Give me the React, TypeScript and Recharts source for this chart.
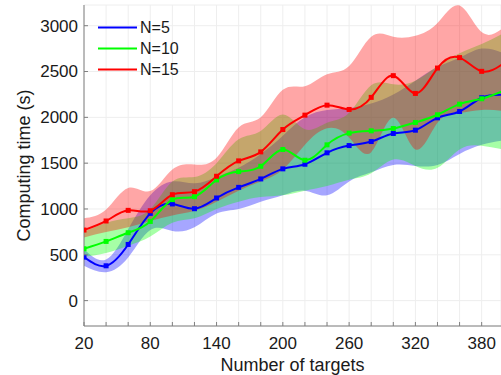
import React from 'react';
import { ComposedChart, Line, Area, XAxis, YAxis, CartesianGrid, Legend } from 'recharts';

// number of targets
const targets = [20, 40, 60, 80, 100, 120, 140, 160, 180, 200, 220, 240, 260, 280, 300, 320, 340, 360, 380, 400];

// mean computing time (s)
const n5 = [475, 380, 613, 952, 1055, 1003, 1120, 1236, 1328, 1438, 1488, 1613, 1692, 1736, 1824, 1860, 1995, 2064, 2214, 2245];
const n10 = [566, 646, 741, 864, 1102, 1134, 1317, 1408, 1466, 1649, 1532, 1700, 1828, 1853, 1878, 1944, 2028, 2144, 2203, 2290];
const n15 = [770, 869, 985, 981, 1156, 1189, 1357, 1525, 1623, 1867, 2024, 2133, 2086, 2218, 2455, 2261, 2538, 2652, 2502, 2590];

// spread (lower / upper)
const n5Lo = [380, 310, 470, 770, 760, 800, 950, 1000, 1080, 1150, 1200, 1150, 1300, 1400, 1480, 1470, 1480, 1600, 1700, 1750];
const n5Hi = [560, 450, 780, 1150, 1300, 1280, 1350, 1450, 1600, 1800, 2000, 2080, 2100, 2150, 2250, 2400, 2550, 2650, 2750, 2700];
const n10Lo = [480, 520, 600, 700, 850, 900, 1000, 1080, 1130, 1150, 1200, 1250, 1320, 1390, 1540, 1470, 1450, 1650, 1690, 1650];
const n10Hi = [750, 850, 900, 1000, 1300, 1350, 1500, 1760, 1850, 2030, 1870, 1940, 2050, 2350, 2360, 2400, 2560, 2700, 2800, 2920];
const n15Lo = [690, 750, 800, 870, 930, 980, 1080, 1200, 1300, 1430, 1700, 1880, 1780, 1620, 1995, 1650, 1940, 2050, 2080, 2070];
const n15Hi = [900, 995, 1230, 1195, 1430, 1485, 1560, 1890, 2000, 2300, 2340, 2470, 2560, 2880, 2880, 2890, 3030, 3220, 2930, 2980];

const xTicks = [20, 40, 60, 80, 100, 120, 140, 160, 180, 200, 220, 240, 260, 280, 300, 320, 340, 360, 380];
const yTicks = [0, 500, 1000, 1500, 2000, 2500, 3000];

const data = targets.map((t, i) => ({
  t,
  n5: n5[i],
  n10: n10[i],
  n15: n15[i],
  b5: [n5Lo[i], n5Hi[i]],
  b10: [n10Lo[i], n10Hi[i]],
  b15: [n15Lo[i], n15Hi[i]],
}));

const series = [
  { key: 'n5', band: 'b5', name: 'N=5', color: '#0000ff' },
  { key: 'n10', band: 'b10', name: 'N=10', color: '#00ff00' },
  { key: 'n15', band: 'b15', name: 'N=15', color: '#ff0000' },
];

const FONT = 'Liberation Sans, Arial, sans-serif';
const AXIS = '#7f7f7f';

const XTick = (props: any) => {
  const { x, y, payload } = props;
  const v = payload.value;
  return (
    <g>
      <line x1={x} y1={y} x2={x} y2={y - 4} stroke={AXIS} />
      {(v - 20) % 60 === 0 && (
        <text x={x} y={y + 23} textAnchor="middle" fontSize={17} fontFamily={FONT} fill="#1a1a1a">{v}</text>
      )}
    </g>
  );
};

const YTick = (props: any) => {
  const { x, y, payload } = props;
  return (
    <g>
      <line x1={x} y1={y} x2={x + 4} y2={y} stroke={AXIS} />
      <text x={x - 6} y={y} dy="0.35em" textAnchor="end" fontSize={17} fontFamily={FONT} fill="#1a1a1a">{payload.value}</text>
    </g>
  );
};

const square = (color: string) => (props: any) => {
  const { cx, cy } = props;
  if (cx == null || cy == null) return null;
  return <rect x={cx - 2.5} y={cy - 2.5} width={5} height={5} fill={color} />;
};

const LegendBox = () => (
  <div style={{ fontFamily: FONT, fontSize: 16, color: '#1a1a1a' }}>
    {series.map((s) => (
      <div key={s.key} style={{ display: 'flex', alignItems: 'center', height: 21 }}>
        <svg width={40} height={21}>
          <line x1={0} y1={10.5} x2={39} y2={10.5} stroke={s.color} strokeWidth={2} />
        </svg>
        <span style={{ marginLeft: 2 }}>{s.name}</span>
      </div>
    ))}
  </div>
);

export default function App() {
  return (
    <div style={{ position: 'absolute', left: 0, top: 0, background: '#fff' }}>
      <ComposedChart width={501} height={375} data={data} margin={{ top: 5, right: 0, left: 0, bottom: 0 }}>
        <CartesianGrid stroke="#eeeeee" strokeWidth={1} />
        <XAxis
          dataKey="t"
          type="number"
          domain={[20, 397.5]}
          allowDataOverflow
          ticks={xTicks}
          interval={0}
          height={49}
          tickSize={0}
          tickMargin={0}
          tickLine={false}
          axisLine={{ stroke: AXIS }}
          tick={<XTick />}
          label={{ value: 'Number of targets', position: 'insideBottom', offset: 4, fontSize: 18, fontFamily: FONT, fill: '#1a1a1a' }}
        />
        <YAxis
          type="number"
          domain={[-277, 3226]}
          allowDataOverflow
          ticks={yTicks}
          interval={0}
          width={84}
          tickSize={0}
          tickMargin={0}
          tickLine={false}
          axisLine={{ stroke: AXIS }}
          tick={<YTick />}
          label={{ value: 'Computing time (s)', angle: -90, position: 'insideLeft', offset: 24, fontSize: 18, fontFamily: FONT, fill: '#1a1a1a', style: { textAnchor: 'middle' } }}
        />
        <Legend content={<LegendBox />} layout="horizontal" verticalAlign="middle" align="center" wrapperStyle={{ left: 98, top: 17, width: 100 }} />
        {series.map((s) => (
          <Area
            key={s.band}
            dataKey={s.band}
            type="natural"
            stroke="none"
            fill={s.color}
            fillOpacity={0.35}
            isAnimationActive={false}
            legendType="none"
            activeDot={false}
          />
        ))}
        {series.map((s) => (
          <Line
            key={s.key}
            dataKey={s.key}
            name={s.name}
            type="natural"
            stroke={s.color}
            strokeWidth={2}
            dot={square(s.color)}
            activeDot={false}
            isAnimationActive={false}
          />
        ))}
      </ComposedChart>
    </div>
  );
}
